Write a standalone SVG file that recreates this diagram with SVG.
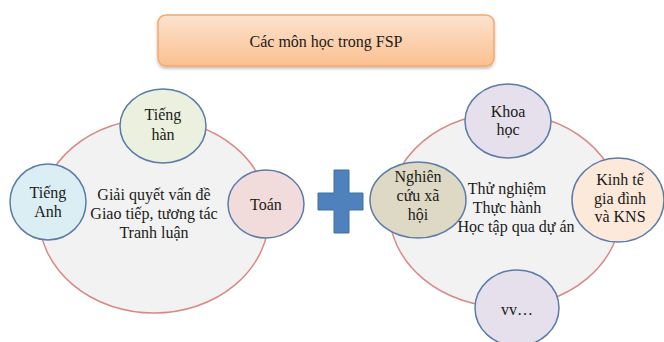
<svg xmlns="http://www.w3.org/2000/svg" width="664" height="342" viewBox="0 0 664 342" font-family="'Liberation Serif', 'Times New Roman', serif">
<defs>
<linearGradient id="tg" x1="0" y1="0" x2="0" y2="1">
<stop offset="0" stop-color="#FDE3D0"/>
<stop offset="1" stop-color="#FBC08F"/>
</linearGradient>
<filter id="sh" x="-10%" y="-20%" width="120%" height="150%">
<feDropShadow dx="0" dy="2" stdDeviation="1.5" flood-color="#000" flood-opacity="0.25"/>
</filter>
<style>
text{font-family:'Liberation Serif','Times New Roman',serif;font-size:16px;fill:#1a1a1a;text-anchor:middle}
.big{fill:#F2F2F2;stroke:#D98886;stroke-width:1.5}
.sm{stroke:#5B7BA8;stroke-width:1.5}
</style>
</defs>
<rect width="664" height="342" fill="#fff"/>
<g id="title">
<rect x="158" y="15" width="336" height="51" rx="8" fill="url(#tg)" stroke="#F7A865" stroke-width="1.5" filter="url(#sh)"/>
<text x="326" y="47">Các môn học trong FSP</text>
</g>
<g id="left-group">
<ellipse class="big" cx="154" cy="216" rx="115" ry="97"/>
<text x="154" y="200">Giải quyết vấn đề</text>
<text x="154" y="219">Giao tiếp, tương tác</text>
<text x="154" y="238">Tranh luận</text>
</g>
<g id="right-group">
<ellipse class="big" cx="505" cy="210" rx="116" ry="97"/>
<text x="507" y="194">Thử nghiệm</text>
<text x="507" y="213">Thực hành</text>
<text x="516" y="232">Học tập qua dự án</text>
</g>
<g id="tieng-han">
<ellipse class="sm" cx="163" cy="126" rx="43" ry="37" fill="#EBF1DE"/>
<text x="163" y="120">Tiếng</text>
<text x="163" y="140">hàn</text>
</g>
<g id="tieng-anh">
<ellipse class="sm" cx="48" cy="202" rx="38" ry="38" fill="#DBEEF4"/>
<text x="48" y="198">Tiếng</text>
<text x="48" y="217">Anh</text>
</g>
<g id="toan">
<ellipse class="sm" cx="266" cy="204" rx="38" ry="34" fill="#F2DCDB"/>
<text x="266" y="210">Toán</text>
</g>
<g id="plus">
<path d="M334,170 H349 V193 H363 V210 H349 V233 H334 V210 H318 V193 H334 Z" fill="#4F81BD" stroke="#41709F" stroke-width="1" stroke-linejoin="round"/>
</g>
<g id="khoa-hoc">
<ellipse class="sm" cx="508" cy="121" rx="43" ry="37" fill="#E5E0EC"/>
<text x="508" y="117">Khoa</text>
<text x="508" y="135">học</text>
</g>
<g id="nghien-cuu">
<ellipse class="sm" cx="418" cy="200" rx="48" ry="38" fill="#DDD9C4"/>
<text x="418" y="182">Nghiên</text>
<text x="418" y="201">cứu xã</text>
<text x="418" y="220">hội</text>
</g>
<g id="kinh-te">
<ellipse class="sm" cx="618" cy="200" rx="46" ry="42" fill="#FDE9D9"/>
<text x="620" y="185">Kinh tế</text>
<text x="620" y="204">gia  đình</text>
<text x="620" y="222">và KNS</text>
</g>
<g id="vv">
<ellipse class="sm" cx="517" cy="308" rx="42" ry="38" fill="#E5E0EC"/>
<text x="517" y="315">vv…</text>
</g>
<g id="connectors"></g>
</svg>
